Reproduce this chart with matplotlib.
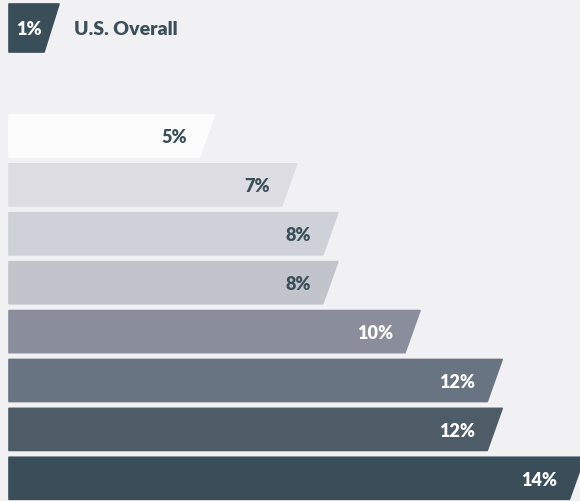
import matplotlib.pyplot as plt
from matplotlib.patches import Polygon

# values (percent) from top bar to bottom bar
values = [5, 7, 8, 8, 10, 12, 12, 14]
labels = ["5%", "7%", "8%", "8%", "10%", "12%", "12%", "14%"]
colors = ["#fcfcfd", "#dcdce2", "#ced1d8", "#c1c4cb",
          "#898d9c", "#697482", "#4d5c67", "#3a4e5a"]
overall_label = "1%"
overall_title = "U.S. Overall"

bg = "#f1f1f3"
dark = "#3b4f5b"
plt.rcParams['font.family'] = ['Lato', 'DejaVu Sans']

fig = plt.figure(figsize=(5.8, 5.02), dpi=100, facecolor=bg)
ax = fig.add_axes([0, 0, 1, 1])
ax.set_facecolor(bg)

# 1% ~ 41.1 px, bars start 9 px from the left edge
ppx = 41.1
ax.set_xlim(-9 / ppx, 571 / ppx)
row0, pitch = 137.0, 48.9
ax.set_ylim((502 - row0) / pitch, -row0 / pitch)
ax.axis("off")

h = 0.86
slant = 15 / ppx

for i, (v, lab, c) in enumerate(zip(values, labels, colors)):
    pts = [(0, i - h / 2), (v, i - h / 2), (v - slant, i + h / 2), (0, i + h / 2)]
    ax.add_patch(Polygon(pts, closed=True, facecolor=c, edgecolor=c,
                         linewidth=1.2, joinstyle="round"))
    tc = "white" if i >= 4 else dark
    ax.text(v - 27 / ppx, i + 0.02, lab, ha="right", va="center",
            fontsize=13, fontweight="heavy", color=tc)

# badge in the top-left corner
def px(x, y):
    return ((x - 9) / ppx, (y - row0) / pitch)

badge = [px(9, 5), px(59, 5), px(44, 53), px(9, 53)]
ax.add_patch(Polygon(badge, closed=True, facecolor="#3a4e5a", edgecolor="#3a4e5a",
                     linewidth=1.2, joinstyle="round"))
bx, by = px(29, 29)
ax.text(bx, by, overall_label, ha="center", va="center",
        fontsize=13, fontweight="heavy", color="white")
tx, ty = px(74, 29)
ax.text(tx, ty, overall_title, ha="left", va="center",
        fontsize=14, fontweight="heavy", color=dark)

fig.savefig("out.png", dpi=100, facecolor=bg)
